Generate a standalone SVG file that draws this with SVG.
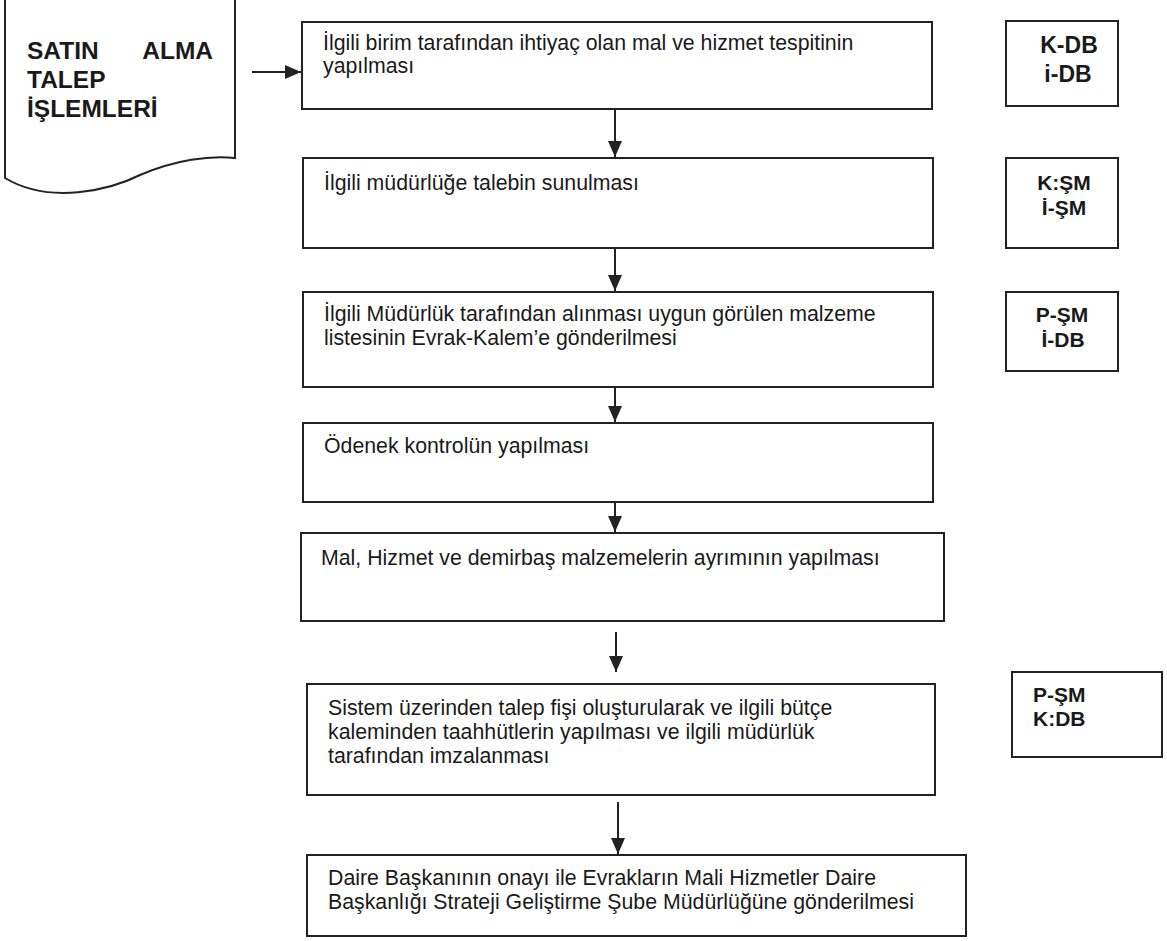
<svg xmlns="http://www.w3.org/2000/svg" width="1167" height="941" viewBox="0 0 1167 941">
<style>
.box{fill:#fff;stroke:#222;stroke-width:2}
.t{font-family:"Liberation Sans",Arial,sans-serif;font-size:21.3px;fill:#1a1a1a}
.b{font-family:"Liberation Sans",Arial,sans-serif;font-weight:bold;fill:#1a1a1a}
.c{stroke:#222;stroke-width:2;fill:none}
</style>
<defs>
<marker id="ah" viewBox="0 0 16 14" refX="16" refY="7" markerWidth="16" markerHeight="14" markerUnits="userSpaceOnUse" orient="auto">
<path d="M0,0 L16,7 L0,14 Z" fill="#222"/>
</marker>
</defs>
<rect width="1167" height="941" fill="#fff"/>
<g id="doc">
<path class="box" d="M5,-3 L235,-3 L235,158 C210,155 175,160 140,175 C110,190 50,205 5,178 Z"/>
<text class="b" font-size="24.5" x="27" y="59">SATIN</text>
<text class="b" font-size="24.5" x="213" y="59" text-anchor="end">ALMA</text>
<text class="b" font-size="24.5" x="27" y="88">TALEP</text>
<text class="b" font-size="24.5" x="27" y="117">İŞLEMLERİ</text>
</g>
<g id="n1">
<rect class="box" x="302" y="22" width="630" height="87"/>
<text class="t" x="323" y="50">İlgili birim tarafından ihtiyaç olan mal ve hizmet tespitinin</text>
<text class="t" x="323" y="73">yapılması</text>
</g>
<g id="n2">
<rect class="box" x="303" y="158" width="630" height="90"/>
<text class="t" x="324" y="190">İlgili müdürlüğe talebin sunulması</text>
</g>
<g id="n3">
<rect class="box" x="303" y="292" width="630" height="95"/>
<text class="t" x="324" y="321">İlgili Müdürlük tarafından alınması uygun görülen malzeme</text>
<text class="t" x="324" y="345">listesinin Evrak-Kalem’e gönderilmesi</text>
</g>
<g id="n4">
<rect class="box" x="303" y="423" width="630" height="79"/>
<text class="t" x="324" y="453">Ödenek kontrolün yapılması</text>
</g>
<g id="n5">
<rect class="box" x="301" y="533" width="643" height="88"/>
<text class="t" x="321" y="565">Mal, Hizmet ve demirbaş malzemelerin ayrımının yapılması</text>
</g>
<g id="n6">
<rect class="box" x="307" y="684" width="628" height="111"/>
<text class="t" x="328" y="715">Sistem üzerinden talep fişi oluşturularak ve ilgili bütçe</text>
<text class="t" x="328" y="739">kaleminden taahhütlerin yapılması ve ilgili müdürlük</text>
<text class="t" x="328" y="763">tarafından imzalanması</text>
</g>
<g id="n7">
<rect class="box" x="307" y="855" width="659" height="81"/>
<text class="t" x="328" y="885">Daire Başkanının onayı ile Evrakların Mali Hizmetler Daire</text>
<text class="t" x="328" y="909">Başkanlığı Strateji Geliştirme Şube Müdürlüğüne gönderilmesi</text>
</g>
<g id="s1">
<rect class="box" x="1006" y="21" width="112" height="85"/>
<text class="b" font-size="23" x="1069" y="53" text-anchor="middle">K-DB</text>
<text class="b" font-size="23" x="1068" y="82" text-anchor="middle">i-DB</text>
</g>
<g id="s2">
<rect class="box" x="1006" y="158" width="112" height="90"/>
<text class="b" font-size="21" x="1064" y="190" text-anchor="middle">K:ŞM</text>
<text class="b" font-size="21" x="1064" y="215" text-anchor="middle">İ-ŞM</text>
</g>
<g id="s3">
<rect class="box" x="1006" y="292" width="112" height="79"/>
<text class="b" font-size="21" x="1062" y="322" text-anchor="middle">P-ŞM</text>
<text class="b" font-size="21" x="1063" y="347" text-anchor="middle">İ-DB</text>
</g>
<g id="s4">
<rect class="box" x="1012" y="672" width="150" height="85"/>
<text class="b" font-size="21" x="1033" y="702">P-ŞM</text>
<text class="b" font-size="21" x="1033" y="726">K:DB</text>
</g>
<g id="connectors">
<line class="c" x1="252" y1="72" x2="301" y2="72" marker-end="url(#ah)"/>
<line class="c" x1="615" y1="109" x2="615" y2="157" marker-end="url(#ah)"/>
<line class="c" x1="615" y1="248" x2="615" y2="291" marker-end="url(#ah)"/>
<line class="c" x1="615" y1="387" x2="615" y2="422" marker-end="url(#ah)"/>
<line class="c" x1="615" y1="502" x2="615" y2="532" marker-end="url(#ah)"/>
<line class="c" x1="616" y1="632" x2="616" y2="672" marker-end="url(#ah)"/>
<line class="c" x1="618" y1="802" x2="618" y2="854" marker-end="url(#ah)"/>
</g>
</svg>
